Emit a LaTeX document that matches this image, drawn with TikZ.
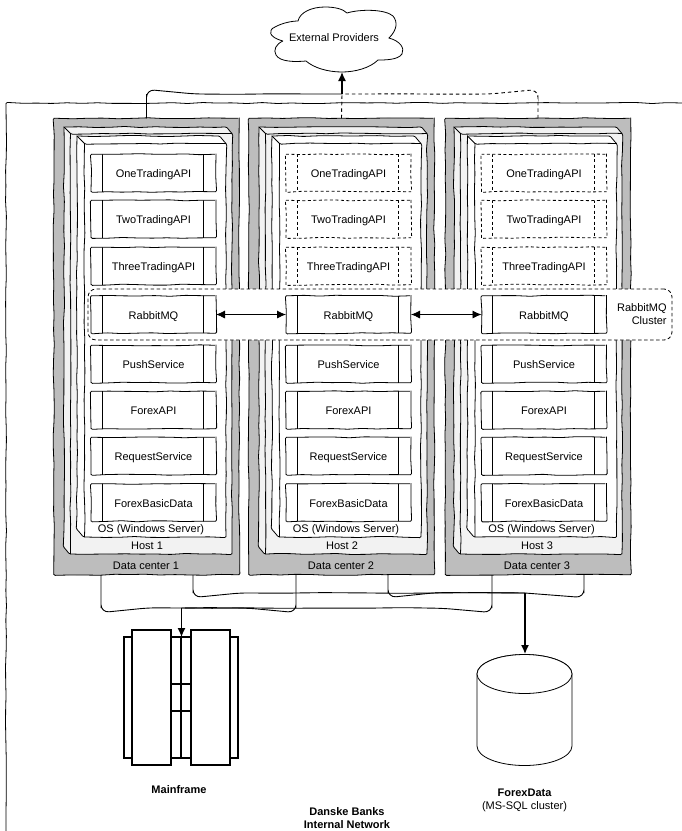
\documentclass[tikz,border=0pt]{standalone}
\usepackage{fontspec}
\setmainfont{Liberation Sans}
\usetikzlibrary{arrows.meta,decorations.pathmorphing}
\definecolor{dcgray}{HTML}{BDBDBD}
\definecolor{hostgray}{HTML}{F2F2F2}
\pgfmathsetseed{11}
\tikzset{
  sketch/.style={decorate,decoration={random steps,segment length=15pt,amplitude=0.55pt},rounded corners=1.2pt},
  service/.style={draw,sketch,fill=white,inner sep=0pt,outer sep=0pt,minimum width=125pt,minimum height=37.5pt,text height=9pt,text depth=0pt,
    path picture={\draw[solid] ([xshift=12pt]path picture bounding box.north west) -- ([xshift=12pt]path picture bounding box.south west);
                  \draw[solid] ([xshift=-13pt]path picture bounding box.north east) -- ([xshift=-13pt]path picture bounding box.south east);}},
  standby/.style={draw,sketch,dash pattern=on 3pt off 2.5pt,fill=white,inner sep=0pt,outer sep=0pt,minimum width=125pt,minimum height=37.5pt,text height=9pt,text depth=0pt,
    path picture={\draw[dash pattern=on 3pt off 2.5pt] ([xshift=12pt]path picture bounding box.north west) -- ([xshift=12pt]path picture bounding box.south west);
                  \draw[dash pattern=on 3pt off 2.5pt] ([xshift=-13pt]path picture bounding box.north east) -- ([xshift=-13pt]path picture bounding box.south east);}},
  datacenter/.style={draw,sketch,fill=dcgray,inner sep=0pt,outer sep=0pt,minimum width=185.5pt,minimum height=456.5pt},
  caption/.style={inner sep=0pt,text height=8pt,text depth=0pt},
  link/.style={draw,decorate,decoration={random steps,segment length=40pt,amplitude=0.4pt},rounded corners=8pt,line width=0.9pt},
  linkdash/.style={link,dash pattern=on 3.5pt off 3pt},
  tip/.style={-{Latex[length=9pt,width=8pt]},line width=1.3pt},
  mainbox/.style={draw,line width=2.4pt,fill=white,inner sep=0pt,outer sep=0pt},
}
% left, top, right, bottom of a host or OS box, bevel, fill
\newcommand{\cubebox}[6]{
  \path[draw,sketch,fill=#6] (#1,#2) -- ({#3-#5},#2) -- (#3,{#2+#5}) -- (#3,#4) -- ({#1+#5},#4) -- (#1,{#4-#5}) -- cycle;
  \path[draw,sketch] (#1,#2) -- ({#1+#5},{#2+#5}) -- (#3,{#2+#5});
  \path[draw,sketch] ({#1+#5},{#2+#5}) -- ({#1+#5},#4);
}
\begin{document}
\begin{tikzpicture}[x=1pt,y=-1pt,font=\fontsize{11}{13}\selectfont,line width=0.8pt]
\useasboundingbox (0,0) rectangle (682,831);

% internal network border
\coordinate (netbottom) at (6,831);
\coordinate (netcorner) at (6,103);
\coordinate (netright) at (682,103);
\path[draw,sketch] (netbottom) -- (netcorner) -- (netright);

% data centers
\node (dc1) [datacenter] at (146.5,346.5) {};
\node (dc2) [datacenter] at (341.5,346.5) {};
\node (dc3) [datacenter] at (538,346.5) {};
\cubebox{64}{127}{232}{554}{6.5}{hostgray}
\cubebox{259}{127}{427}{554}{6.5}{hostgray}
\cubebox{454}{127}{622}{554}{6.5}{hostgray}
\cubebox{77}{136}{226}{537}{7.5}{white}
\cubebox{272}{136}{421}{537}{7.5}{white}
\cubebox{467.5}{136}{616.5}{537}{7.5}{white}

\node (os1) [caption] at (151,528) {OS (Windows Server)};
\node (os2) [caption] at (346,528) {OS (Windows Server)};
\node (os3) [caption] at (541.5,528) {OS (Windows Server)};
\node (host1) [caption] at (147,545) {Host 1};
\node (host2) [caption] at (342,545) {Host 2};
\node (host3) [caption] at (537,545) {Host 3};
\node (dclabel1) [caption] at (146,565) {Data center 1};
\node (dclabel2) [caption] at (341,565) {Data center 2};
\node (dclabel3) [caption] at (537,565) {Data center 3};

% services
\node (one1) [service] at (153.5,173) {OneTradingAPI};
\node (two1) [service] at (153.5,219) {TwoTradingAPI};
\node (three1) [service] at (153.5,266) {ThreeTradingAPI};
\node (one2) [standby] at (348.5,173) {OneTradingAPI};
\node (two2) [standby] at (348.5,219) {TwoTradingAPI};
\node (three2) [standby] at (348.5,266) {ThreeTradingAPI};
\node (one3) [standby] at (544,173) {OneTradingAPI};
\node (two3) [standby] at (544,219) {TwoTradingAPI};
\node (three3) [standby] at (544,266) {ThreeTradingAPI};

\node (push1) [service] at (153.5,364) {PushService};
\node (forex1) [service] at (153.5,410) {ForexAPI};
\node (request1) [service] at (153.5,456) {RequestService};
\node (basic1) [service] at (153.5,502.5) {ForexBasicData};
\node (push2) [service] at (348.5,364) {PushService};
\node (forex2) [service] at (348.5,410) {ForexAPI};
\node (request2) [service] at (348.5,456) {RequestService};
\node (basic2) [service] at (348.5,502.5) {ForexBasicData};
\node (push3) [service] at (544,364) {PushService};
\node (forex3) [service] at (544,410) {ForexAPI};
\node (request3) [service] at (544,456) {RequestService};
\node (basic3) [service] at (544,502.5) {ForexBasicData};

% rabbit cluster
\node (cluster) [draw,dash pattern=on 3.5pt off 2.5pt,fill=white,rounded corners=8pt,inner sep=0pt,minimum width=584pt,minimum height=51pt] at (380,314.5) {};
\node (rabbit1) [service] at (153.5,314.5) {RabbitMQ};
\node (rabbit2) [service] at (348.5,314.5) {RabbitMQ};
\node (rabbit3) [service] at (544,314.5) {RabbitMQ};
\node (clusterlabel1) [caption,anchor=east] at (667,307.7) {RabbitMQ};
\node (clusterlabel2) [caption,anchor=east] at (667,320.3) {Cluster};
\draw[{Latex[length=9pt,width=8pt]}-{Latex[length=9pt,width=8pt]}] (rabbit1) -- (rabbit2);
\draw[{Latex[length=9pt,width=8pt]}-{Latex[length=9pt,width=8pt]}] (rabbit2) -- (rabbit3);

% external providers
\path[draw,fill=white] (283,41) .. controls (268,37) and (268,30) .. (275,27)
  .. controls (282,23) and (292,21) .. (298,21)
  .. controls (300,12) and (312,7) .. (325,7)
  .. controls (335,7) and (343,9) .. (347,13)
  .. controls (360,9) and (385,9) .. (393,16)
  .. controls (398,22) and (397,30) .. (389,38)
  .. controls (400,41) and (405,48) .. (402,54)
  .. controls (398,60) and (385,60) .. (378,60)
  .. controls (370,68) and (355,72) .. (342,72)
  .. controls (328,72) and (314,68) .. (306,61)
  .. controls (295,62) and (280,62) .. (276,55)
  .. controls (273,50) and (276,44) .. (283,41);
\node (providers) [caption] at (334,37.5) {External Providers};
\coordinate (cloudin) at (342,72);
\coordinate (cloudturn) at (342,94);

\path[linkdash] (dc2.north) -- (cloudturn);
\path[linkdash] (dc3.north) |- (cloudturn);
\path[link] (dc1.north) |- (cloudturn);
\draw[tip] (cloudturn) -- (cloudin);

% mainframe
\node (mfback) [mainbox,minimum width=114pt,minimum height=121pt] at (181,697.5) {};
\node (mfmid) [mainbox,minimum width=20pt,minimum height=27pt] at (181,697.5) {};
\coordinate (mftop) at (181,637);
\coordinate (mfbottom) at (181,758);
\draw[line width=1.8pt] (mftop) -- (mfbottom);
\node (mfleft) [mainbox,minimum width=39pt,minimum height=135pt] at (151.5,697.5) {};
\node (mfright) [mainbox,minimum width=39pt,minimum height=135pt] at (210.5,697.5) {};
\node (mainframe) [caption] at (179,789) {\bfseries Mainframe};

% forexdata
\path[draw,fill=white] (477,674) arc [start angle=180,end angle=360,x radius=47.5,y radius=19.5]
  -- (572,746) arc [start angle=0,end angle=180,x radius=47.5,y radius=19.5] -- cycle;
\path[draw,fill=white] (524.5,674) ellipse [x radius=47.5,y radius=19.5];
\coordinate (forexin) at (525,654);
\node (forexlabel1) [caption] at (524.5,792.7) {\bfseries ForexData};
\node (forexlabel2) [caption] at (524.5,805.3) {(MS-SQL cluster)};
\node (network1) [caption] at (347,811) {\bfseries Danske Banks};
\node (network2) [caption] at (347,824) {\bfseries Internal Network};

% connectors below the data centers
\coordinate (dc1a) at (101,575);
\coordinate (dc2a) at (296,575);
\coordinate (dc3a) at (492,575);
\coordinate (dc1b) at (193,575);
\coordinate (dc2b) at (388,575);
\coordinate (dc3b) at (584,575);
\coordinate (mfbus) at (181.5,608);
\coordinate (sqlbus) at (525,593);
\path[link] (dc1a) |- (mfbus);
\path[link] (dc2a) |- (mfbus);
\path[link] (dc3a) |- (mfbus);
\path[link] (dc1b) |- (sqlbus);
\path[link] (dc2b) |- (sqlbus);
\path[link] (dc3b) |- (sqlbus);
\draw[tip] (mfbus) -- (mftop -| mfbus);
\draw[tip] (sqlbus) -- (forexin);
\end{tikzpicture}
\end{document}
